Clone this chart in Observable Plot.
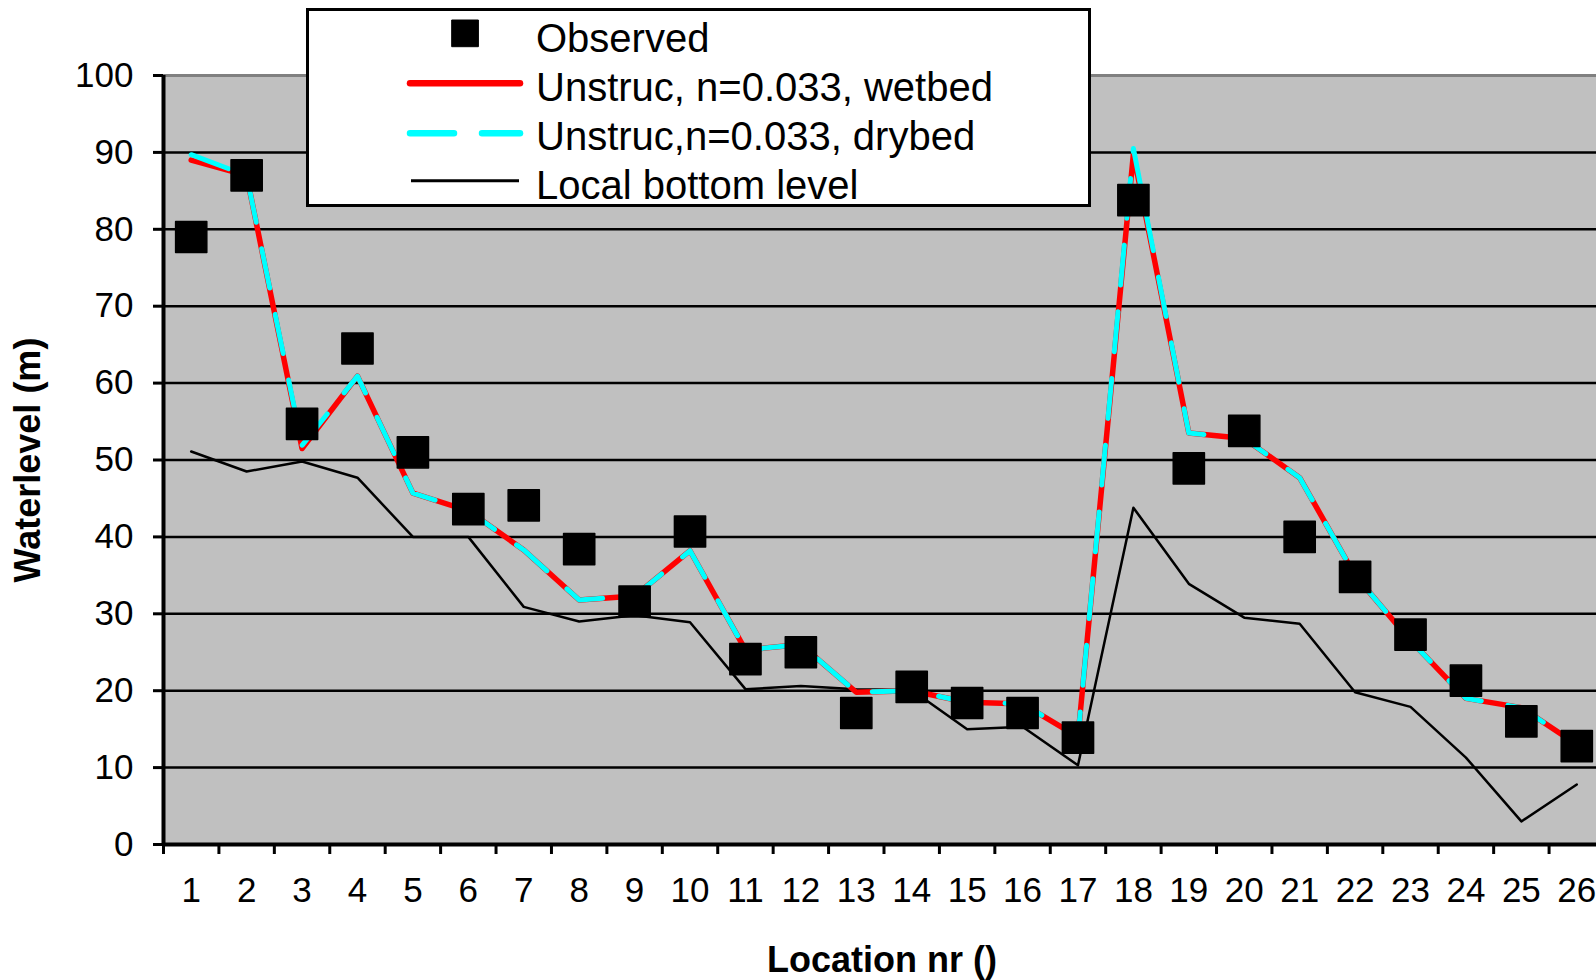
<!DOCTYPE html>
<html><head><meta charset="utf-8">
<script src="https://cdn.jsdelivr.net/npm/d3@7"></script>
<script src="https://cdn.jsdelivr.net/npm/@observablehq/plot@0.6"></script>
<style>
html,body{margin:0;padding:0;background:#fff;overflow:hidden;}
#wrap{position:relative;width:1596px;height:980px;overflow:hidden;font-family:"Liberation Sans",Arial,sans-serif;}
</style></head><body>
<div id="wrap"></div>
<script>
// ---- data ----
const locations = [1,2,3,4,5,6,7,8,9,10,11,12,13,14,15,16,17,18,19,20,21,22,23,24,25,26];
const observed = [79.0,87.0,54.7,64.5,51.0,43.6,44.1,38.4,31.6,40.7,24.1,25.0,17.1,20.5,18.4,17.1,13.9,83.8,48.9,53.8,40.0,34.8,27.3,21.3,16.0,12.8];
const wetbed   = [89.0,87.0,51.5,60.9,45.7,43.4,38.3,31.8,32.3,38.2,25.3,26.0,19.8,20.0,18.5,18.3,14.0,89.8,53.5,52.8,47.7,35.0,26.5,19.0,17.8,13.0];
const drybed   = [89.7,87.0,51.9,60.9,45.7,43.4,38.3,31.8,32.3,38.2,25.3,26.0,19.8,20.0,18.5,18.3,14.0,90.5,53.5,52.8,47.7,35.0,26.5,19.0,17.8,13.0];
const bottom   = [51.1,48.5,49.8,47.7,40.0,40.0,30.9,29.0,29.8,28.9,20.2,20.6,20.2,20.1,15.0,15.3,10.3,43.8,33.9,29.5,28.7,19.8,17.9,11.3,3.0,7.8];
const yTicks = [0,10,20,30,40,50,60,70,80,90,100];
const seriesNames = ["Observed","Unstruc, n=0.033, wetbed","Unstruc,n=0.033, drybed","Local bottom level"];
const yTitle = "Waterlevel (m)";
const xTitle = "Location nr ()";

const rows = locations.map((loc,i)=>({loc, observed:observed[i], wetbed:wetbed[i], drybed:drybed[i], bottom:bottom[i]}));
const edges = [locations[0]-0.5, ...locations.map(d=>d+0.5)];
const FONT = '"Liberation Sans", Arial, sans-serif';

const chart = Plot.plot({
  width: 1604, height: 980,
  marginLeft: 163, marginRight: 0, marginTop: 75, marginBottom: 136,
  style: {fontFamily: FONT, background: "white", maxWidth: "none", color: "#000"},
  x: {domain: [0.5, 26.5], label: null},
  y: {domain: [0, 100], label: null},
  marks: [
    Plot.frame({fill: "#c0c0c0", stroke: "none"}),
    Plot.ruleY(yTicks.filter(d => d > 0 && d < 100), {stroke: "#000", strokeWidth: 2.5}),
    Plot.ruleY([100], {stroke: "#808080", strokeWidth: 3}),
    Plot.line(rows, {x: "loc", y: "bottom", stroke: "#000", strokeWidth: 2.5}),
    Plot.line(rows, {x: "loc", y: "wetbed", stroke: "#ff0000", strokeWidth: 5.5}),
    Plot.line(rows, {x: "loc", y: "drybed", stroke: "#00ffff", strokeWidth: 5, strokeDasharray: "40,27", strokeLinecap: "round"}),
    Plot.dot(rows, {x: "loc", y: "observed", symbol: "square", r: 17.6, fill: "#000", stroke: "#000", strokeWidth: 1.5, strokeLinejoin: "round"}),
    Plot.ruleY([0], {stroke: "#000", strokeWidth: 4}),
    Plot.ruleX([0.5], {stroke: "#000", strokeWidth: 4}),
    Plot.axisY({ticks: yTicks, tickSize: 10, tickPadding: 20, strokeWidth: 3, fontSize: 35, label: null}),
    Plot.axisX({ticks: edges, tickSize: 10, tickFormat: () => "", strokeWidth: 3, label: null}),
    Plot.axisX({ticks: locations, tickSize: 0, tickPadding: 33, fontSize: 35, label: null, tickFormat: d => String(d)}),
    Plot.text([yTitle], {text: d => d, frameAnchor: "left", textAnchor: "middle", dx: -135, rotate: -90, fontSize: 36, fontWeight: "bold"}),
    Plot.text([xTitle], {text: d => d, frameAnchor: "bottom", textAnchor: "middle", dx: -2, dy: 127, fontSize: 36, fontWeight: "bold"})
  ]
});
const wrap = document.getElementById("wrap");
wrap.appendChild(chart);

// ---- legend overlay ----
const leg = d3.create("svg")
  .attr("width", 1596).attr("height", 980)
  .style("position", "absolute").style("left", "0px").style("top", "0px")
  .style("font-family", FONT);
leg.append("rect").attr("x", 307.5).attr("y", 9.5).attr("width", 782).attr("height", 196)
  .attr("fill", "#fff").attr("stroke", "#000").attr("stroke-width", 3);
const baselines = [51.7, 100.7, 150, 199.3];
leg.append("rect").attr("x", 451.7).attr("y", 20).attr("width", 26.7).attr("height", 26.7)
  .attr("fill", "#000").attr("stroke", "#000").attr("stroke-width", 1).attr("stroke-linejoin", "round");
leg.append("line").attr("x1", 410).attr("x2", 520).attr("y1", 83.3).attr("y2", 83.3)
  .attr("stroke", "#ff0000").attr("stroke-width", 6.5).attr("stroke-linecap", "round");
leg.append("line").attr("x1", 410).attr("x2", 520).attr("y1", 133.3).attr("y2", 133.3)
  .attr("stroke", "#00ffff").attr("stroke-width", 6.5).attr("stroke-linecap", "round").attr("stroke-dasharray", "44,28");
leg.append("line").attr("x1", 411).attr("x2", 519).attr("y1", 180.7).attr("y2", 180.7)
  .attr("stroke", "#000").attr("stroke-width", 3);
seriesNames.forEach((name, i) => {
  leg.append("text").attr("x", 536).attr("y", baselines[i]).attr("font-size", 40).attr("fill", "#000").text(name);
});
wrap.appendChild(leg.node());
</script>
</body></html>
